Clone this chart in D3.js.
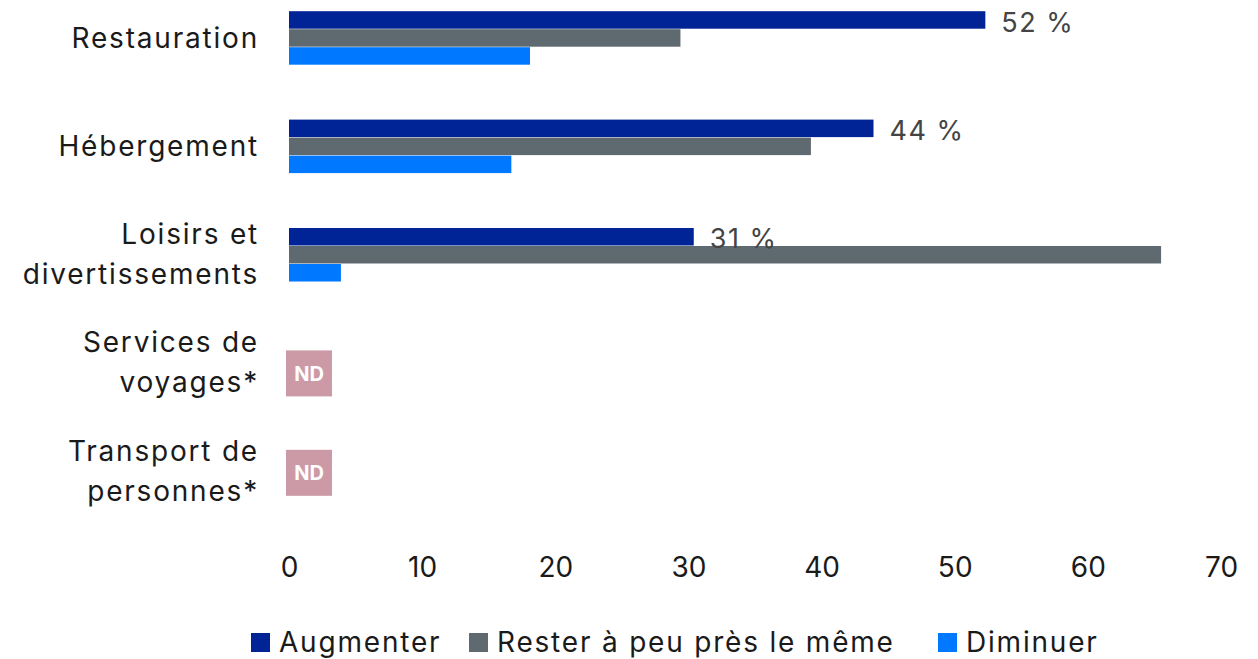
<!DOCTYPE html>
<html>
<head>
<meta charset="utf-8">
<script src="https://cdn.jsdelivr.net/npm/d3@7"></script>
<style>
  body { margin: 0; background: #fff; }
  svg text { font-family: Inter, Roboto, sans-serif; }
</style>
</head>
<body>
<svg id="chart" width="1258" height="659"></svg>
<script>
const categories = [["Restauration"], ["Hébergement"], ["Loisirs et", "divertissements"], ["Services de", "voyages*"], ["Transport de", "personnes*"]];
const series = ["Augmenter", "Rester à peu près le même", "Diminuer"];
const augmenter = [52.3, 43.9, 30.4, null, null];
const rester = [29.4, 39.2, 65.5, null, null];
const diminuer = [18.1, 16.7, 3.9, null, null];
const valueLabels = ["52 %", "44 %", "31 %", null, null];
const xTicks = [0, 10, 20, 30, 40, 50, 60, 70];
const colors = ["#002395", "#5f6a70", "#0078ff"];
// vertical nudge of the ND boxes
const ndOffset = [0, 0, 0, 10, 1];

const svg = d3.select('#chart');
const x = d3.scaleLinear().domain([0, 70]).range([289, 1221]);
const y = d3.scaleBand().domain(d3.range(categories.length)).range([-16, 526]).paddingInner(0).paddingOuter(0);
const barH = 18;
const values = [augmenter, rester, diminuer];

// bars
categories.forEach((c, i) => {
  const cy = y(i) + y.bandwidth() / 2;
  values.forEach((vals, s) => {
    if (vals[i] == null) return;
    svg.append('rect')
      .attr('x', x(0))
      .attr('y', cy - 1.5 * barH + s * barH)
      .attr('width', x(vals[i]) - x(0))
      .attr('height', barH - 0.5)
      .attr('fill', colors[s]);
  });
  if (valueLabels[i]) {
    svg.append('text')
      .attr('x', x(augmenter[i]) + 16)
      .attr('y', cy - 1.5 * barH + 11)
      .attr('dy', '0.35em')
      .attr('font-size', 27)
      .attr('letter-spacing', 1.5)
      .attr('fill', '#444')
      .text(valueLabels[i]);
  }
  if (augmenter[i] == null) {
    svg.append('rect')
      .attr('x', 286).attr('y', cy - 23 + ndOffset[i])
      .attr('width', 46).attr('height', 46)
      .attr('fill', '#cc9aa6');
    svg.append('text')
      .attr('x', 309).attr('y', cy + ndOffset[i])
      .attr('dy', '0.36em')
      .attr('text-anchor', 'middle')
      .attr('font-size', 20)
      .attr('font-weight', 700)
      .attr('fill', '#fff')
      .text('ND');
  }
  // category label
  const lh = 40;
  const t = svg.append('text')
    .attr('text-anchor', 'end')
    .attr('font-size', 28)
    .attr('letter-spacing', 1.8)
    .attr('fill', '#1a1a1a');
  c.forEach((line, k) => {
    t.append('tspan')
      .attr('x', 259)
      .attr('y', cy - (c.length - 1) + (k - (c.length - 1) / 2) * lh)
      .attr('dy', '0.35em')
      .text(line);
  });
});

// x axis
const xAxis = d3.axisBottom(x).tickValues(xTicks).tickSize(0).tickPadding(0);
const gx = svg.append('g').attr('transform', 'translate(0,557)').call(xAxis);
gx.select('.domain').remove();
gx.selectAll('text')
  .attr('font-size', 28)
  .attr('fill', '#1a1a1a')
  .attr('dy', '0.71em')
  .style('font-family', 'Inter, Roboto, sans-serif');

// legend
const legendX = [251, 469, 938];
series.forEach((s, i) => {
  svg.append('rect')
    .attr('x', legendX[i]).attr('y', 633)
    .attr('width', 19).attr('height', 19)
    .attr('fill', colors[i]);
  svg.append('text')
    .attr('x', legendX[i] + 28).attr('y', 642)
    .attr('dy', '0.35em')
    .attr('font-size', 28)
    .attr('letter-spacing', 1.8)
    .attr('fill', '#1a1a1a')
    .text(s);
});
</script>
</body>
</html>
